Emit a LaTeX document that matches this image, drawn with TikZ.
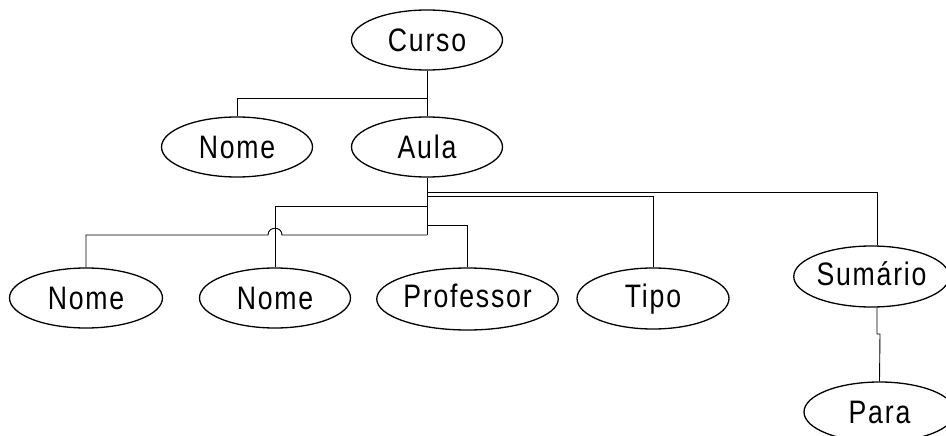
\documentclass[tikz,border=0pt]{standalone}
\usepackage{fontspec}
\setmainfont[FakeStretch=0.82,LetterSpace=5.5]{Liberation Sans}
\usetikzlibrary{shapes.geometric}
\begin{document}
\begin{tikzpicture}[x=1pt,y=-1pt,
  ent/.style={draw,ellipse,line width=1.3pt,inner sep=0pt,minimum width=151pt,minimum height=60pt,
    text height=23.3pt,text depth=0pt,font=\fontsize{32.5}{33}\selectfont},
  desc/.style={text depth=6pt},
  con/.style={draw,line width=0.9pt}]
\useasboundingbox (0,0) rectangle (946,436);
\clip (0,0) rectangle (946,436);
\node[ent] (curso) at (427,40) {Curso};
\node[ent] (nomeA) at (237,147) {Nome};
\node[ent] (aula) at (427,147) {Aula};
\node[ent,minimum width=153pt] (nomeL) at (86,298) {Nome};
\node[ent] (nomeM) at (275,298) {Nome};
\node[ent,desc,minimum width=161pt,minimum height=62pt] (prof) at (467.5,299) {Professor};
\node[ent,desc,minimum width=152pt,minimum height=61pt] (tipo) at (653,298.5) {Tipo};
\node[ent,desc,minimum height=61pt] (sum) at (871.5,276.5) {Sumário};
\node[ent] (para) at (879.5,412) {Para};
\coordinate (j0) at (427,98);
\coordinate (jS) at (427,192);
\coordinate (jT) at (427,196.5);
\coordinate (jM) at (427,206);
\coordinate (jP) at (427,225);
\coordinate (jL) at (427,235);
\coordinate (sumB) at ([xshift=5.5pt]sum.south);
\coordinate (kink) at (877,334);
% Curso
\path[con] (curso.south) -- (aula.north);
\path[con] (j0) -| (nomeA.north);
% Aula trunk
\path[con] (aula.south) -- (jL);
\path[con] (jS) -| ([xshift=5.5pt]sum.north);
\path[con] (jT) -| (tipo.north);
\path[con] (jM) -| (nomeM.north);
\path[con] (jP) -| (prof.north);
\path[con] (jL) -- (282,235) .. controls (282,226) and (268,226) .. (268,235) -| (nomeL.north);
% Sumario - Para
\path[con] (sumB) -- (kink) -- ++(3,0) -- (para.north);
\end{tikzpicture}
\end{document}
